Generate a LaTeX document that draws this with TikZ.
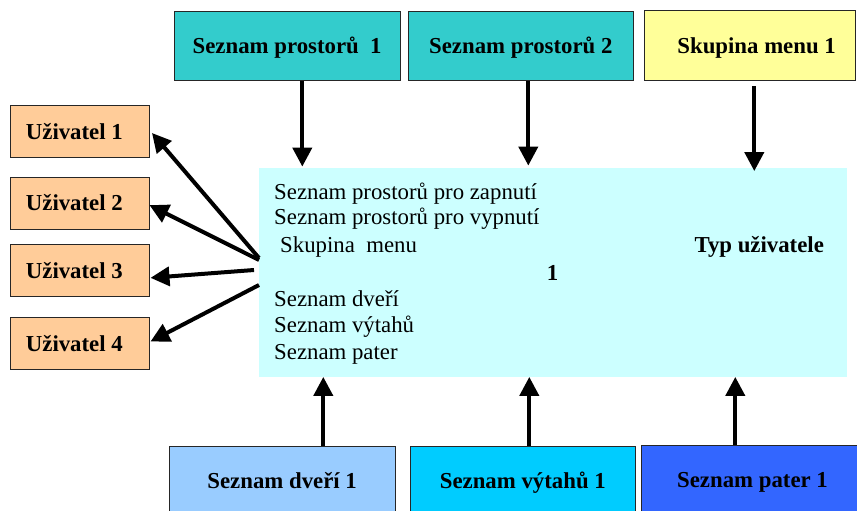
\documentclass[tikz,border=0pt]{standalone}
\usepackage{fontspec}
\setmainfont{Liberation Serif}
\usetikzlibrary{arrows.meta,calc}

\definecolor{roomteal}{HTML}{33CCCC}
\definecolor{menuyellow}{HTML}{FFFF99}
\definecolor{userorange}{HTML}{FFCC99}
\definecolor{mainbg}{HTML}{CCFFFF}
\definecolor{doorblue}{HTML}{99CCFF}
\definecolor{liftcyan}{HTML}{00CCFF}
\definecolor{floorblue}{HTML}{3366FF}

\begin{document}
\begin{tikzpicture}[x=1pt,y=-1pt,
  box/.style={draw=black!85, line width=1pt, inner sep=0pt,
    text height=15.4pt, text depth=0pt,
    font=\bfseries\fontsize{22.8}{27}\selectfont},
  topbox/.style={box, minimum height=69.5pt},
  botbox/.style={box, minimum height=69.3pt},
  userbox/.style={box, fill=userorange, minimum width=138.3pt, minimum height=52pt},
  txt/.style={anchor=base west, inner sep=0pt, font=\fontsize{22.8}{27}\selectfont},
  btxt/.style={txt, font=\bfseries\fontsize{22.8}{27}\selectfont},
  arr/.style={line width=4pt, -{Triangle[width=19pt,length=19pt]}}
]
\useasboundingbox (0,0) rectangle (857,511);
\clip (0,0) rectangle (857,511);

% central panel
\node[fill=mainbg, inner sep=0pt, minimum width=587.4pt, minimum height=208.4pt]
  (main) at (553,272.5) {};
\node[txt]  (t1) at (274,199)   {Seznam prostorů pro zapnutí};
\node[txt]  (t2) at (274,224.3) {Seznam prostorů pro vypnutí};
\node[txt]  (t3) at (280,252.7) {Skupina\ \ menu};
\node[btxt] (t4) at (546.7,280) {1};
\node[txt]  (t5) at (274,306.7) {Seznam dveří};
\node[txt]  (t6) at (274,332.7) {Seznam výtahů};
\node[txt]  (t7) at (274,359)   {Seznam pater};
\node[btxt] (typ) at (694.3,252.7) {Typ uživatele};

% sources above
\node[topbox, fill=roomteal, minimum width=225.7pt] (sp1) at (287.15,46.25) {Seznam prostorů\ \ 1};
\node[topbox, fill=roomteal, minimum width=225pt] (sp2) at (520.8,46) {Seznam prostorů 2};
\node[topbox, fill=menuyellow, minimum width=210.7pt] (sm1) at (749.65,45.5) {\hspace*{14pt}Skupina menu 1};

% sources below
\node[botbox, fill=doorblue, minimum width=225.7pt] (dv) at (282.15,480.65) {Seznam dveří 1};
\node[botbox, fill=liftcyan, minimum width=224.3pt] (vy) at (522.85,480.65) {Seznam výtahů 1};
\node[botbox, fill=floorblue, minimum width=223pt, minimum height=70.3pt] (pa) at (752.5,480.15) {Seznam pater 1};

% users (label set slightly left of centre)
\node[userbox] (u1) at (79.85,131.7)  {Uživatel 1\hspace*{11pt}};
\node[userbox] (u2) at (79.85,203.15) {Uživatel 2\hspace*{11pt}};
\node[userbox] (u3) at (79.85,270.85) {Uživatel 3\hspace*{11pt}};
\node[userbox] (u4) at (79.85,343.5)  {Uživatel 4\hspace*{11pt}};

% arrow columns
\coordinate (a1) at (302.3,0);
\coordinate (a2) at (528.3,0);
\coordinate (a3) at (754.3,0);
\coordinate (b1) at (323.3,0);
\coordinate (b2) at (529.3,0);
\coordinate (b3) at (735.3,0);

\draw[arr] (sp1.south -| a1) -- ($(main.north -| a1)+(0,-1.5)$);
\draw[arr] (sp2.south -| a2) -- ($(main.north -| a2)+(0,-2.5)$);
\draw[arr] ($(sm1.south -| a3)+(0,5.5)$) -- ($(main.north -| a3)+(0,3)$);

\draw[arr] (dv.north -| b1) -- (main.south -| b1);
\draw[arr] (vy.north -| b2) -- (main.south -| b2);
\draw[arr] (pa.north -| b3) -- (main.south -| b3);

% outputs to users
\coordinate (l1) at (259,258);
\coordinate (l2) at (259,260);
\coordinate (l3) at (254,270);
\coordinate (l4) at (259,285);
\draw[arr] (l1) -- ($(u1.east)+(2.5,1.3)$);
\draw[arr] (l2) -- ($(u2.east)+(0,2)$);
\draw[arr] (l3) -- ($(u3.east)+(1,7)$);
\draw[arr] (l4) -- ($(u4.east)+(1,-2)$);
\end{tikzpicture}
\end{document}
